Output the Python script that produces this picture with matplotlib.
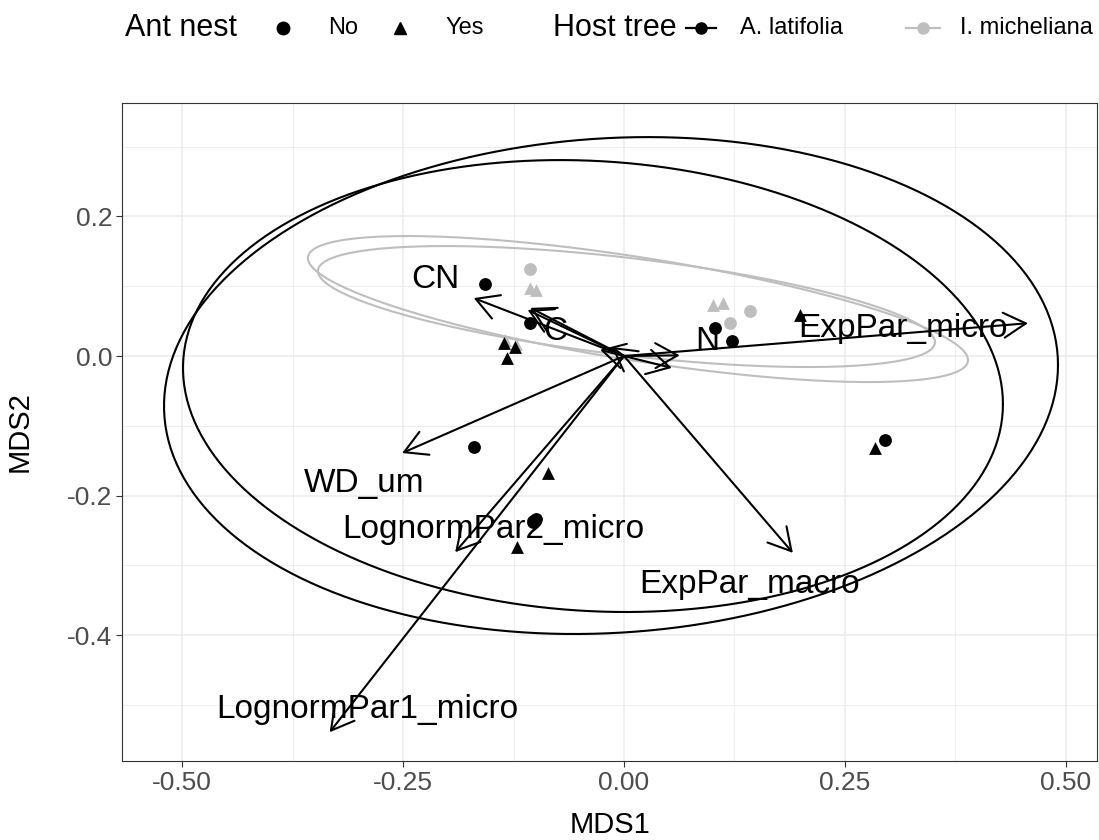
import numpy as np
import matplotlib
matplotlib.use('Agg')
import matplotlib.pyplot as plt
from matplotlib.lines import Line2D

plt.rcParams['font.family'] = ['Liberation Sans', 'DejaVu Sans']

BLACK = '#000000'
GREY = '#BEBEBE'

# site scores, split by host tree and ant nest
lat_no_x = [-0.157, -0.106, 0.103, 0.122, -0.170, -0.103, -0.099, 0.295]
lat_no_y = [0.103, 0.047, 0.040, 0.021, -0.130, -0.238, -0.234, -0.120]
lat_yes_x = [-0.132, -0.136, -0.123, 0.199, 0.284, -0.086, -0.121]
lat_yes_y = [-0.003, 0.019, 0.013, 0.059, -0.132, -0.168, -0.274]
mich_no_x = [-0.106, 0.120, 0.143]
mich_no_y = [0.125, 0.047, 0.064]
mich_yes_x = [-0.106, -0.099, 0.101, 0.112, -0.135, -0.122]
mich_yes_y = [0.097, 0.095, 0.073, 0.076, 0.023, 0.017]

# fitted vectors (arrow tips) and where their labels sit
vec_names = ['CN', 'C', 'N', 'ExpPar_micro', 'ExpPar_macro', 'WD_um',
             'LognormPar2_micro', 'LognormPar1_micro']
vec_x = [-0.170, -0.109, 0.063, 0.457, 0.191, -0.251, -0.191, -0.333]
vec_y = [0.083, 0.066, 0.001, 0.047, -0.282, -0.139, -0.281, -0.539]
lab_x = [-0.213, -0.078, 0.094, 0.316, 0.1425, -0.294, -0.148, -0.290]
lab_y = [0.097, 0.023, 0.009, 0.027, -0.340, -0.195, -0.261, -0.519]
# short vectors crowded round the origin
small_x = [-0.106, 0.054, -0.027, -0.014]
small_y = [0.069, -0.017, 0.009, 0.013]

# group ellipses: centre and covariance
ell_colour = [BLACK, BLACK, GREY, GREY]
ell_cx = [-0.0147, -0.0351, 0.0158, 0.0028]
ell_cy = [-0.0423, -0.0430, 0.0673, 0.0709]
ell_sxx = [0.2557, 0.2151, 0.1394, 0.1218]
ell_syy = [0.1267, 0.1048, 0.01094, 0.00751]
ell_sxy = [0.01487, -0.01197, -0.02728, -0.01776]


def ellipse_path(cx, cy, sxx, syy, sxy, n=200):
    t = np.linspace(0, 2 * np.pi, n)
    L = np.linalg.cholesky(np.array([[sxx, sxy], [sxy, syy]]))
    pts = L @ np.vstack([np.cos(t), np.sin(t)])
    return cx + pts[0], cy + pts[1]


fig = plt.figure(figsize=(10.99, 8.40), dpi=100)
W, H = 1099, 840
ax = fig.add_axes([122 / W, 1 - 761 / H, (1097 - 122) / W, (761 - 103) / H])
ax.set_xlim(-0.5679, 0.5351)
ax.set_ylim(-0.5802, 0.3625)

ax.set_xticks([-0.5, -0.25, 0, 0.25, 0.5])
ax.set_xticklabels(['-0.50', '-0.25', '0.00', '0.25', '0.50'])
ax.set_yticks([-0.4, -0.2, 0.0, 0.2])
ax.set_yticklabels(['-0.4', '-0.2', '0.0', '0.2'])
ax.set_xticks([-0.375, -0.125, 0.125, 0.375], minor=True)
ax.set_yticks([-0.5, -0.3, -0.1, 0.1, 0.3], minor=True)
ax.grid(which='major', color='#EBEBEB', lw=1.1)
ax.grid(which='minor', color='#EBEBEB', lw=0.6)
ax.set_axisbelow(True)
ax.tick_params(which='minor', length=0)
ax.tick_params(which='major', length=4, width=0.8, color='#333333',
               labelcolor='#4D4D4D', labelsize=19, pad=3)
for sp in ax.spines.values():
    sp.set_color('#333333')
    sp.set_linewidth(0.8)

for i in range(len(ell_cx)):
    ex, ey = ellipse_path(ell_cx[i], ell_cy[i], ell_sxx[i], ell_syy[i], ell_sxy[i])
    ax.plot(ex, ey, color=ell_colour[i], lw=1.5, zorder=2)

ms = 85
ax.scatter(mich_no_x, mich_no_y, s=ms, marker='o', color=GREY, lw=0, zorder=3)
ax.scatter(mich_yes_x, mich_yes_y, s=ms, marker='^', color=GREY, lw=0, zorder=3)
ax.scatter(lat_no_x, lat_no_y, s=ms, marker='o', color=BLACK, lw=0, zorder=3)
ax.scatter(lat_yes_x, lat_yes_y, s=ms, marker='^', color=BLACK, lw=0, zorder=3)

arrow_style = '->,head_length=0.8,head_width=0.45'
for xs, ys in [(vec_x, vec_y), (small_x, small_y)]:
    for x, y in zip(xs, ys):
        ax.annotate('', xy=(x, y), xytext=(0, 0),
                    arrowprops=dict(arrowstyle=arrow_style, lw=1.5, color=BLACK,
                                    shrinkA=0, shrinkB=0, mutation_scale=20),
                    zorder=4)

for name, x, y in zip(vec_names, lab_x, lab_y):
    ax.text(x, y, name, ha='center', va='baseline', fontsize=24, color=BLACK, zorder=5)

ax.set_xlabel('MDS1', fontsize=21, color=BLACK, labelpad=12)
ax.set_ylabel('MDS2', fontsize=21, color=BLACK, labelpad=24)

# legend row across the top
def fx(px):
    return px / W


ly = 1 - 28 / H
fig.text(fx(125), ly, 'Ant nest', fontsize=22, va='center', ha='left')
fig.add_artist(Line2D([fx(283)], [ly], marker='o', ms=9, color=BLACK, lw=0,
                      transform=fig.transFigure))
fig.text(fx(328), ly, 'No', fontsize=17, va='center', ha='left')
fig.add_artist(Line2D([fx(400)], [ly], marker='^', ms=9, color=BLACK, lw=0,
                      transform=fig.transFigure))
fig.text(fx(445), ly, 'Yes', fontsize=17, va='center', ha='left')
fig.text(fx(553), ly, 'Host tree', fontsize=22, va='center', ha='left')
for x0, x1, col, lab, tx in [(686, 716, BLACK, 'A. latifolia', 740),
                             (906, 940, GREY, 'I. micheliana', 960)]:
    fig.add_artist(Line2D([fx(x0), fx(x1)], [ly, ly], color=col, lw=1.6,
                          marker=None, transform=fig.transFigure))
    fig.add_artist(Line2D([fx((x0 + x1) / 2)], [ly], marker='o', ms=8, color=col,
                          lw=0, transform=fig.transFigure))
    fig.text(fx(tx), ly, lab, fontsize=17, va='center', ha='left')

fig.savefig('out.png', dpi=100)
